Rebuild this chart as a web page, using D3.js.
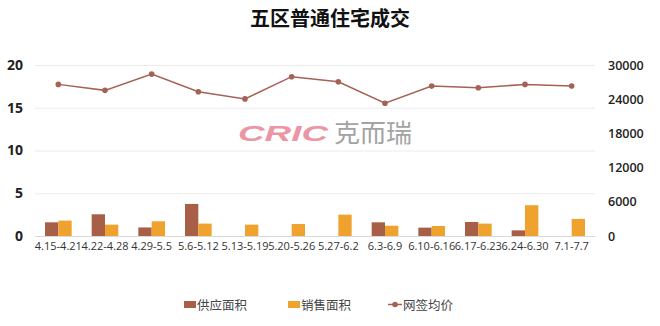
<!DOCTYPE html>
<html>
<head>
<meta charset="utf-8">
<script src="https://cdn.jsdelivr.net/npm/d3@7"></script>
<style>
  html, body { margin: 0; padding: 0; background: #fff; }
  svg { display: block; font-family: "Noto Sans CJK SC", "Open Sans", sans-serif; }
</style>
</head>
<body>
<svg id="chart" width="660" height="326"></svg>
<script>
// Weekly periods
const categories = ["4.15-4.21", "4.22-4.28", "4.29-5.5", "5.6-5.12", "5.13-5.19", "5.20-5.26",
                    "5.27-6.2", "6.3-6.9", "6.10-6.16", "6.17-6.23", "6.24-6.30", "7.1-7.7"];
// Supply area (left axis)
const supply = [1.6, 2.54, 1.0, 3.75, 0, 0, 0, 1.6, 0.98, 1.64, 0.66, 0];
// Sales area (left axis)
const sales = [1.8, 1.33, 1.72, 1.45, 1.33, 1.4, 2.5, 1.2, 1.17, 1.45, 3.6, 2.0];
// Average contracted price (right axis)
const price = [26600, 25550, 28400, 25300, 24050, 27950, 27050, 23300, 26300, 26000, 26600, 26300];
const leftTicks = [0, 5, 10, 15, 20];
const rightTicks = [0, 6000, 12000, 18000, 24000, 30000];
const seriesNames = ["供应面积", "销售面积", "网签均价"];
const title = "五区普通住宅成交";

const colSupply = "#A85F48", colSales = "#F0A22E", colLine = "#A66157";

const svg = d3.select("#chart");
const plotL = 35, plotR = 595, plotT = 65, plotB = 236;

const x = d3.scaleBand().domain(categories).range([plotL, plotR]);
const xs = d3.scaleBand().domain([0, 1]).range([0, x.bandwidth()]).paddingOuter(0.75).paddingInner(0);
const yL = d3.scaleLinear().domain([0, 20]).range([plotB, plotT]);
const yR = d3.scaleLinear().domain([0, 30000]).range([plotB, plotT]);

// title
svg.append("text").attr("x", 330).attr("y", 26).attr("text-anchor", "middle")
  .attr("font-size", 20).attr("font-weight", 700).attr("fill", "#111").text(title);

// gridlines
svg.append("g").selectAll("line").data(leftTicks).join("line")
  .attr("x1", plotL).attr("x2", plotR)
  .attr("y1", d => yL(d) + 0.5).attr("y2", d => yL(d) + 0.5)
  .attr("stroke", d => d === 0 ? "#d9d9d9" : "#ececec").attr("stroke-width", 1);

// watermark
const wm = svg.append("g").attr("opacity", 0.9);
wm.append("text").attr("x", 238).attr("y", 141).attr("font-size", 22).attr("font-weight", 900)
  .attr("font-style", "italic").attr("font-family", "Liberation Sans, sans-serif")
  .attr("textLength", 90).attr("lengthAdjust", "spacingAndGlyphs")
  .attr("fill", "#EA8A9C").text("CRIC");
wm.append("text").attr("x", 334).attr("y", 142).attr("font-size", 25).attr("font-weight", 400)
  .attr("textLength", 78).attr("lengthAdjust", "spacingAndGlyphs")
  .attr("fill", "#9a9a9a").text("克而瑞");

// left axis
const axL = svg.append("g").attr("transform", `translate(${plotL - 12},0)`)
  .call(d3.axisLeft(yL).tickValues(leftTicks).tickSize(0).tickPadding(0));
axL.select(".domain").remove();
axL.selectAll("text").attr("font-size", 14).attr("font-weight", 700).attr("fill", "#222")
  .attr("font-family", "Open Sans, sans-serif");

// right axis
const axR = svg.append("g").attr("transform", `translate(${plotR + 13},0)`)
  .call(d3.axisRight(yR).tickValues(rightTicks).tickFormat(d3.format("d")).tickSize(0).tickPadding(0));
axR.select(".domain").remove();
axR.selectAll("text").attr("font-size", 12.5).attr("font-weight", 600).attr("fill", "#222")
  .attr("font-family", "Open Sans, sans-serif");

// x axis labels
const axX = svg.append("g").attr("transform", `translate(0,${plotB})`)
  .call(d3.axisBottom(x).tickSize(0).tickPadding(6));
axX.select(".domain").remove();
axX.selectAll("text").attr("font-size", 11).attr("fill", "#333")
  .attr("font-family", "Open Sans, sans-serif");

// bars
const groups = svg.append("g").selectAll("g").data(categories).join("g")
  .attr("transform", d => `translate(${x(d)},0)`);
groups.append("rect")
  .attr("x", xs(0)).attr("width", xs.bandwidth())
  .attr("y", (d, i) => yL(supply[i])).attr("height", (d, i) => yL(0) - yL(supply[i]))
  .attr("fill", colSupply);
groups.append("rect")
  .attr("x", xs(1)).attr("width", xs.bandwidth())
  .attr("y", (d, i) => yL(sales[i])).attr("height", (d, i) => yL(0) - yL(sales[i]))
  .attr("fill", colSales);

// price line
const line = d3.line().x((d, i) => x(categories[i]) + x.bandwidth() / 2).y(d => yR(d));
svg.append("path").datum(price).attr("d", line).attr("fill", "none")
  .attr("stroke", colLine).attr("stroke-width", 1.5);
svg.append("g").selectAll("circle").data(price).join("circle")
  .attr("cx", (d, i) => x(categories[i]) + x.bandwidth() / 2).attr("cy", d => yR(d))
  .attr("r", 2.8).attr("fill", colLine);

// legend
const lg = svg.append("g").attr("font-size", 12.5).attr("fill", "#444");
lg.append("rect").attr("x", 184).attr("y", 301).attr("width", 12).attr("height", 7).attr("fill", colSupply);
lg.append("text").attr("x", 197).attr("y", 310).attr("fill", "#444").text(seriesNames[0]);
lg.append("rect").attr("x", 288).attr("y", 301).attr("width", 12).attr("height", 7).attr("fill", colSales);
lg.append("text").attr("x", 301).attr("y", 310).attr("fill", "#444").text(seriesNames[1]);
lg.append("line").attr("x1", 388).attr("x2", 402).attr("y1", 304.5).attr("y2", 304.5)
  .attr("stroke", colLine).attr("stroke-width", 1.5);
lg.append("circle").attr("cx", 395).attr("cy", 304.5).attr("r", 2.8).attr("fill", colLine);
lg.append("text").attr("x", 403).attr("y", 310).attr("fill", "#444").text(seriesNames[2]);
</script>
</body>
</html>
